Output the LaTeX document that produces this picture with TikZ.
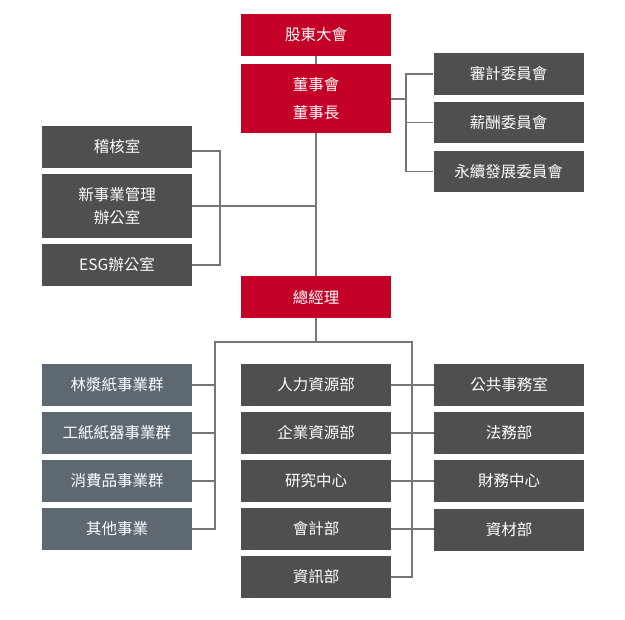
\documentclass[tikz,border=0pt]{standalone}
\usepackage{fontspec}
\newfontfamily\cjk{Noto Sans CJK TC}
\definecolor{redbox}{RGB}{197,0,38}
\definecolor{darkbox}{RGB}{80,78,78}
\definecolor{slatebox}{RGB}{94,104,113}
\definecolor{linegray}{RGB}{118,118,118}
\tikzset{
  orgbox/.style={minimum width=150pt, minimum height=42pt, inner sep=0pt, text=white,
    font=\cjk\fontsize{15.5}{23}\selectfont, align=center},
  redb/.style={orgbox, fill=redbox},
  darkb/.style={orgbox, fill=darkbox},
  slateb/.style={orgbox, fill=slatebox},
  conn/.style={draw=linegray, line width=1.2pt}
}
\begin{document}
\begin{tikzpicture}[x=1pt,y=-1pt]
\useasboundingbox (0,0) rectangle (625,620);
% top
\node[redb] (sh) at (316,35) {\raisebox{-1pt}{股東大會}};
\node[redb, minimum height=69pt, font=\cjk\fontsize{15.5}{28}\selectfont] (bd) at (316,98.5) {董事會\\董事長};
\node[darkb] (c1) at (508.5,74) {\raisebox{-1pt}{審計委員會}};
\node[darkb, minimum height=41pt] (c2) at (508.5,122.5) {\raisebox{-1pt}{薪酬委員會}};
\node[darkb, minimum height=41pt] (c3) at (508.5,171.5) {\raisebox{-1pt}{永續發展委員會}};
% staff
\node[darkb] (l1) at (117,147) {\raisebox{-1pt}{稽核室}};
\node[darkb, minimum height=64pt] (l2) at (117,206) {新事業管理\\辦公室};
\node[darkb] (l3) at (117,265) {\raisebox{-1pt}{ESG辦公室}};
% general manager
\node[redb] (gm) at (316,297) {\raisebox{-1pt}{總經理}};
% business groups
\node[slateb] (g1) at (117,385) {\raisebox{-1pt}{林漿紙事業群}};
\node[slateb] (g2) at (117,433) {\raisebox{-1pt}{工紙紙器事業群}};
\node[slateb] (g3) at (117,481) {\raisebox{-1pt}{消費品事業群}};
\node[slateb] (g4) at (117,529) {\raisebox{-1pt}{其他事業}};
% middle
\node[darkb] (m1) at (316,385) {\raisebox{-1pt}{人力資源部}};
\node[darkb] (m2) at (316,433) {\raisebox{-1pt}{企業資源部}};
\node[darkb] (m3) at (316,481) {\raisebox{-1pt}{研究中心}};
\node[darkb] (m4) at (316,529) {\raisebox{-1pt}{會計部}};
\node[darkb] (m5) at (316,577) {\raisebox{-1pt}{資訊部}};
% right
\node[darkb] (r1) at (509,385) {\raisebox{-1pt}{公共事務室}};
\node[darkb] (r2) at (509,433) {\raisebox{-1pt}{法務部}};
\node[darkb] (r3) at (509,481) {\raisebox{-1pt}{財務中心}};
\node[darkb] (r4) at (509,530) {\raisebox{-1pt}{資材部}};
% coordinates
\coordinate (cb) at (406,99);
\coordinate (lb) at (220,206);
\coordinate (gL) at (215,342);
\coordinate (gR) at (412,342);
\coordinate (gj) at (316,342);
% connectors
\draw[conn] (sh.south) -- (bd.north);
\draw[conn] (bd.south) -- (gm.north);
\draw[conn] (bd.east |- cb) -- (cb);
\draw[conn] (c1.west) -| (cb) |- (c3.west);
\draw[conn] (c2.west) -- (c2.west -| cb);
\draw[conn] ([yshift=-4pt]l1.east) -| (lb) |- (l3.east);
\draw[conn] (l2.east) -- (l2.east -| gm);
\draw[conn] (gm.south) -- (gj);
\draw[conn] (g4.east) -| (gL) -- (gR) |- (m5.east);
\foreach \i in {1,2,3}{\draw[conn] (g\i.east) -- (g\i.east -| gL);}
\foreach \i in {1,2,3,4}{\draw[conn] (m\i.east) -- (m\i.east -| r\i.west);}
\end{tikzpicture}
\end{document}
